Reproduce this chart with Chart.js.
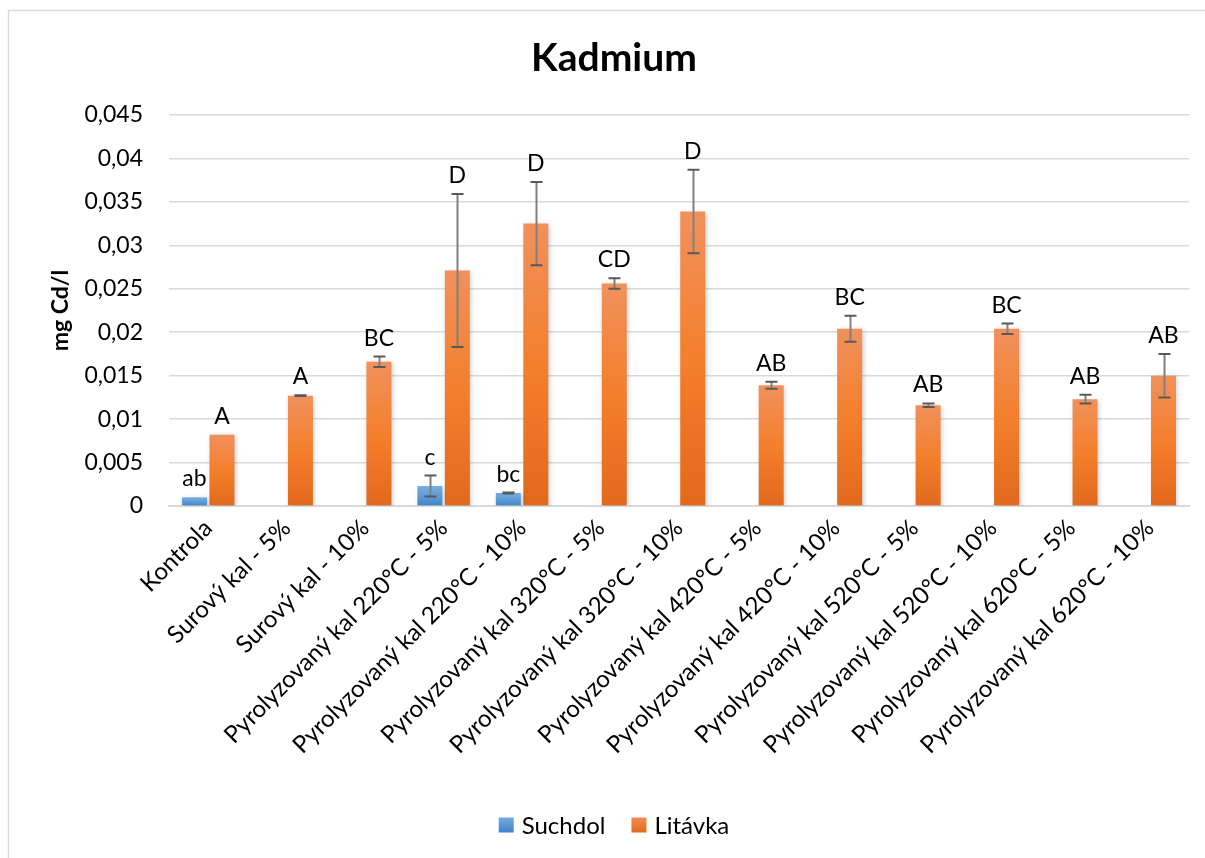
<!DOCTYPE html>
<html>
<head>
<meta charset="utf-8">
<title>Kadmium</title>
<script src="https://cdn.jsdelivr.net/npm/chart.js@4.4.1/dist/chart.umd.min.js"></script>
<style>
  html, body { margin: 0; padding: 0; background: #ffffff; }
  #wrap { width: 1205px; height: 858px; }
</style>
</head>
<body>
<div id="wrap"><canvas id="c" width="1205" height="858"></canvas></div>
<script>
// Categories (treatments)
const categories = [
  'Kontrola',
  'Surový kal - 5%',
  'Surový kal - 10%',
  'Pyrolyzovaný kal 220°C - 5%',
  'Pyrolyzovaný kal 220°C - 10%',
  'Pyrolyzovaný kal 320°C - 5%',
  'Pyrolyzovaný kal 320°C - 10%',
  'Pyrolyzovaný kal 420°C - 5%',
  'Pyrolyzovaný kal 420°C - 10%',
  'Pyrolyzovaný kal 520°C - 5%',
  'Pyrolyzovaný kal 520°C - 10%',
  'Pyrolyzovaný kal 620°C - 5%',
  'Pyrolyzovaný kal 620°C - 10%'
];

// Mean cadmium concentration, mg Cd/l
const suchdolValues = [0.0010, null, null, 0.0023, 0.0015, null, null, null, null, null, null, null, null];
const litavkaValues = [0.0082, 0.0127, 0.0166, 0.0271, 0.0325, 0.0256, 0.0339, 0.0139, 0.0204, 0.0116, 0.0204, 0.0123, 0.0150];

// Standard deviations (error bars)
const suchdolErrors = [0, 0, 0, 0.0012, 0.00005, 0, 0, 0, 0, 0, 0, 0, 0];
const litavkaErrors = [0, 0.00005, 0.0006, 0.0088, 0.0048, 0.0006, 0.0048, 0.0004, 0.0015, 0.0002, 0.0006, 0.0005, 0.0025];

// Significance letters above bars
const suchdolLetters = ['ab', '', '', 'c', 'bc', '', '', '', '', '', '', '', ''];
const litavkaLetters = ['A', 'A', 'BC', 'D', 'D', 'CD', 'D', 'AB', 'BC', 'AB', 'BC', 'AB', 'AB'];

// Y axis ticks
const yTicks = [0, 0.005, 0.01, 0.015, 0.02, 0.025, 0.03, 0.035, 0.04, 0.045];

const chartTitle = 'Kadmium';
const FONT = 'Lato, "Open Sans", "Noto Sans", sans-serif';

// Vertical gradient per bar, light at the top, deeper at the base
function barGradient(stops) {
  return function (ctx) {
    const chart = ctx.chart;
    if (!chart.chartArea || ctx.type !== 'data') return stops[1][1];
    const v = ctx.parsed ? ctx.parsed.y : null;
    if (v === null || v === undefined) return stops[1][1];
    const y = chart.scales.y;
    const top = y.getPixelForValue(v);
    const base = y.getPixelForValue(0);
    if (!isFinite(top) || Math.abs(base - top) < 1) return stops[1][1];
    const g = chart.ctx.createLinearGradient(0, top, 0, base);
    stops.forEach(s => g.addColorStop(s[0], s[1]));
    return g;
  };
}
const orangeStops = [[0, '#F0915C'], [0.5, '#F47F2C'], [1, '#E2691C']];
const blueStops = [[0, '#79AEE0'], [0.5, '#5C9BD6'], [1, '#3F84C8']];

// Chart frame, background, title and legend
const framePlugin = {
  id: 'frame',
  beforeDraw(chart) {
    const c = chart.ctx;
    c.save();
    c.fillStyle = '#ffffff';
    c.fillRect(0, 0, chart.width, chart.height);
    c.strokeStyle = '#d9d9d9';
    c.lineWidth = 1.5;
    c.strokeRect(8.5, 10.5, chart.width + 20, chart.height + 20);
    c.restore();
  },
  afterDraw(chart) {
    const c = chart.ctx;
    const midX = 614;
    c.save();
    // title
    c.fillStyle = '#000000';
    c.font = 'bold 39px ' + FONT;
    c.textAlign = 'center';
    c.textBaseline = 'middle';
    c.fillText(chartTitle, midX, 58);
    // legend
    c.font = '24px ' + FONT;
    c.textAlign = 'left';
    const box = 15, gapText = 8, gapItem = 26, cy = 825;
    const items = chart.data.datasets.map(ds => ({ text: ds.label, color: ds.legendColor, w: c.measureText(ds.label).width }));
    const total = items.reduce((s, it) => s + box + gapText + it.w, 0) + gapItem * (items.length - 1);
    let x = midX - total / 2;
    items.forEach(it => {
      const g = c.createLinearGradient(0, cy - box / 2, 0, cy + box / 2);
      g.addColorStop(0, it.color[0]);
      g.addColorStop(1, it.color[1]);
      c.fillStyle = g;
      c.fillRect(x, cy - box / 2, box, box);
      c.fillStyle = '#000000';
      c.fillText(it.text, x + box + gapText, cy + 1);
      x += box + gapText + it.w + gapItem;
    });
    c.restore();
  }
};

// Soft shadow under the bars
const shadowPlugin = {
  id: 'barShadow',
  beforeDatasetDraw(chart) {
    const c = chart.ctx;
    c.save();
    c.shadowColor = 'rgba(0,0,0,0.22)';
    c.shadowBlur = 5;
    c.shadowOffsetX = 1.5;
    c.shadowOffsetY = 1.5;
  },
  afterDatasetDraw(chart) {
    chart.ctx.restore();
  }
};

// Error bars and letter labels
const errorsAndLetters = {
  id: 'errorsAndLetters',
  afterDatasetsDraw(chart) {
    const c = chart.ctx;
    const y = chart.scales.y;
    chart.data.datasets.forEach((ds, di) => {
      const meta = chart.getDatasetMeta(di);
      meta.data.forEach((el, i) => {
        const v = ds.data[i];
        if (v === null || v === undefined) return;
        const e = ds.errors[i] || 0;
        const x = Math.round(el.x) + 0.5;
        const yt = y.getPixelForValue(v + e);
        const yb = y.getPixelForValue(v - e);
        if (e > 0) {
          c.save();
          c.lineCap = 'butt';
          c.strokeStyle = '#808080';
          c.lineWidth = 2;
          c.beginPath();
          c.moveTo(x, yt);
          c.lineTo(x, yb);
          c.stroke();
          c.strokeStyle = '#595959';
          c.beginPath();
          c.moveTo(x - 6, yt); c.lineTo(x + 6, yt);
          c.moveTo(x - 6, yb); c.lineTo(x + 6, yb);
          c.stroke();
          c.restore();
        }
        const txt = ds.letters[i];
        if (txt) {
          const topPix = Math.min(yt, y.getPixelForValue(v));
          c.save();
          c.fillStyle = '#000000';
          c.font = '23px ' + FONT;
          c.textAlign = 'center';
          c.textBaseline = 'alphabetic';
          c.fillText(txt, el.x, topPix - 11);
          c.restore();
        }
      });
    });
  }
};

const chart = new Chart(document.getElementById('c'), {
  type: 'bar',
  data: {
    labels: categories,
    datasets: [
      {
        label: 'Suchdol',
        data: suchdolValues,
        errors: suchdolErrors,
        letters: suchdolLetters,
        backgroundColor: barGradient(blueStops),
        legendColor: ['#74ABDE', '#3F84C8'],
        borderWidth: 0,
        categoryPercentage: 0.70,
        barPercentage: 0.91
      },
      {
        label: 'Litávka',
        data: litavkaValues,
        errors: litavkaErrors,
        letters: litavkaLetters,
        backgroundColor: barGradient(orangeStops),
        legendColor: ['#F28C52', '#E2691C'],
        borderWidth: 0,
        categoryPercentage: 0.70,
        barPercentage: 0.91
      }
    ]
  },
  options: {
    responsive: false,
    animation: false,
    devicePixelRatio: 1,
    layout: { padding: { top: 115, left: 10, right: 16, bottom: 60 } },
    plugins: {
      title: { display: false },
      legend: { display: false },
      tooltip: { enabled: false }
    },
    scales: {
      x: {
        grid: { display: false, drawTicks: false },
        border: { display: true, color: '#d9d9d9', width: 2 },
        ticks: {
          color: '#000000',
          font: { family: FONT, size: 24 },
          maxRotation: 45,
          minRotation: 45,
          autoSkip: false,
          padding: 8
        },
        afterFit(scale) { scale.height = 292; }
      },
      y: {
        min: 0,
        max: 0.045,
        afterBuildTicks(scale) { scale.ticks = yTicks.map(v => ({ value: v })); },
        grid: { color: '#d9d9d9', lineWidth: 1.5, drawTicks: false },
        border: { display: false },
        ticks: {
          color: '#000000',
          font: { family: FONT, size: 23 },
          padding: 26,
          callback: v => String(Math.round(v * 1000) / 1000).replace('.', ',')
        },
        title: {
          display: true,
          text: 'mg Cd/l',
          color: '#000000',
          font: { family: FONT, size: 23, weight: 'bold' },
          padding: { top: 37, bottom: 0 }
        },
        afterFit(scale) { scale.width = 159; }
      }
    }
  },
  plugins: [framePlugin, shadowPlugin, errorsAndLetters]
});
</script>
</body>
</html>
